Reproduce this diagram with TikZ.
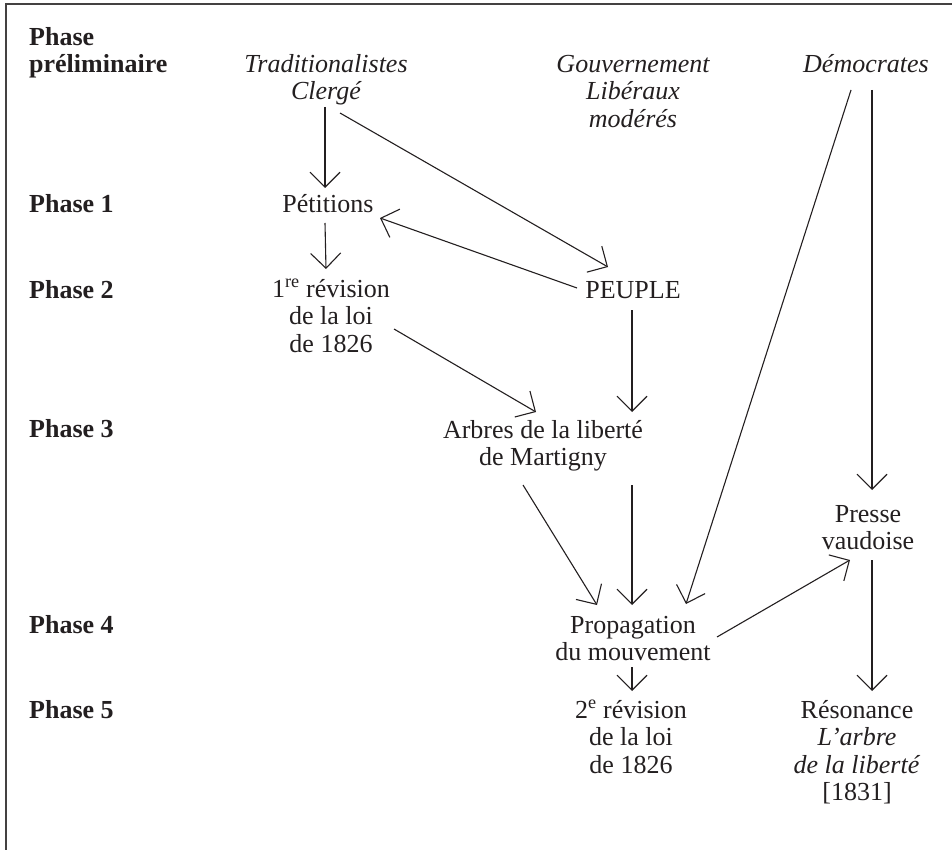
\documentclass[tikz,border=0pt]{standalone}
\usepackage{fontspec}
\setmainfont{Liberation Serif}
\usetikzlibrary{arrows.meta,calc}
\definecolor{ink}{HTML}{231F20}
\begin{document}
\begin{tikzpicture}[x=1pt,y=-1pt,
  every node/.style={inner sep=0pt, text=ink, font=\fontsize{26}{27.5}\selectfont},
  lbl/.style={anchor=base west, align=left, font=\fontsize{26}{27}\selectfont\bfseries},
  txt/.style={anchor=base, align=center},
  itx/.style={anchor=base, align=center, font=\fontsize{26}{27.5}\selectfont\itshape},
  arr/.style={draw=ink, line width=1.1pt, -{Straight Barb[length=15pt,width=30pt,line width=1.1pt]}}]
\useasboundingbox (0,0) rectangle (952,850);
\draw[line width=1.6pt, color=ink!85] (6,850) -- (6,4) -- (952,4);
% phase labels (base = last line)
\node[lbl] (ph0) at (29,72.7) {Phase\\préliminaire};
\node[lbl] (ph1) at (29,213) {Phase 1};
\node[lbl] (ph2) at (29,298) {Phase 2};
\node[lbl] (ph3) at (29,437) {Phase 3};
\node[lbl] (ph4) at (29,633) {Phase 4};
\node[lbl] (ph5) at (29,718) {Phase 5};
% actors
\node[itx] (trad) at (326,100) {Traditionalistes\\Clergé};
\node[itx] (gouv) at (633,127.5) {Gouvernement\\Libéraux\\modérés};
\node[itx] (demo) at (866,72.5) {Démocrates};
% events
\node[txt] (pet) at (328,213) {Pétitions};
\node[txt] (peuple) at (633,298) {PEUPLE};
\node[txt] (rev1) at (331,352) {1\textsuperscript{re} révision\\de la loi\\de 1826};
\node[txt] (arbres) at (543,465.5) {Arbres de la liberté\\de Martigny};
\node[txt] (presse) at (868,549.5) {Presse\\vaudoise};
\node[txt] (prop) at (633,660.5) {Propagation\\du mouvement};
\node[txt] (rev2) at (631,773) {2\textsuperscript{e} révision\\de la loi\\de 1826};
\node[txt] (reson) at (857,800.5) {Résonance\\\textit{L'arbre}\\\textit{de la liberté}\\{[}1831{]}};
% connectors
\draw[arr] ($(trad.base)+(-1,7)$) -- ($(pet.base)+(-3,-25)$);
\draw[arr] ($(trad.base)+(14,13)$) -- ($(peuple.base)+(-25,-31)$);
\draw[arr] ($(pet.base)+(-3,10)$) -- ($(rev1.base)+(-5,-83)$);
\draw[arr] ($(peuple.base)+(-56,-10)$) -- ($(pet.base)+(52,5)$);
\draw[arr] ($(rev1.base)+(63,-23)$) -- ($(arbres.base)+(-7,-53.5)$);
\draw[arr] ($(peuple.base)+(-1,12)$) -- ($(arbres.base)+(89,-53.5)$);
\draw[arr] ($(arbres.base)+(-20,19.5)$) -- ($(prop.base)+(-36,-55.5)$);
\draw[arr] ($(arbres.base)+(89,19.5)$) -- ($(prop.base)+(-1,-55.5)$);
\draw[arr] ($(demo.base)+(-15,17.5)$) -- ($(prop.base)+(53,-56.5)$);
\draw[arr] ($(demo.base)+(6,17.5)$) -- ($(presse.base)+(4,-59.5)$);
\draw[arr] ($(prop.base)+(84,-23.5)$) -- ($(presse.base)+(-18,10.5)$);
\draw[arr] ($(prop.base)+(-1,6.5)$) -- ($(rev2.base)+(1,-82)$);
\draw[arr] ($(presse.base)+(4,10.5)$) -- ($(reson.base)+(15,-109.5)$);
\end{tikzpicture}
\end{document}
